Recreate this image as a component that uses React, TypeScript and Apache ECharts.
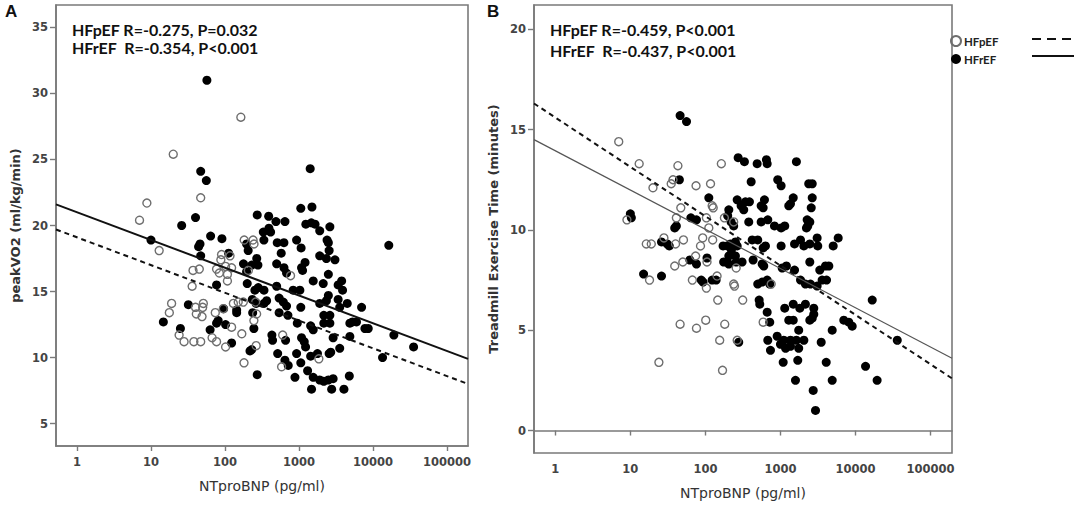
import React, { useEffect, useRef } from "react";
import * as echarts from "echarts";

// ---------- data ----------
const xTicks = [1, 10, 100, 1000, 10000, 100000];
const yTicksA = [5, 10, 15, 20, 25, 30, 35];
const yTicksB = [0, 5, 10, 15, 20];
const xMin = 0.52;
const xMax = 193000;

// Panel A: NTproBNP (pg/ml) vs peakVO2 (ml/kg/min)
const aHFpEF: number[][] = [
  [164, 28.2], [20, 25.4], [47, 22.1], [8.8, 21.7], [7.0, 20.4], [182, 18.9], [240, 18.9],
  [247, 18.6], [12.9, 18.1], [90, 17.8], [117, 17.7], [88, 17.4], [37, 16.6], [45, 16.7],
  [77, 16.7], [84, 16.4], [102, 16.9], [123, 16.8], [108, 16.3], [108, 15.8], [36, 15.4],
  [770, 16.2], [207, 16.6], [19, 14.1], [17.7, 13.4], [40, 13.8], [51, 14.1], [50, 13.8],
  [41, 13.3], [49, 13.1], [74, 13.4], [95, 13.7], [24, 11.7], [28, 11.2], [38, 11.2],
  [47, 11.2], [67, 11.5], [77, 11.2], [102, 10.8], [123, 12.3], [169, 11.8], [130, 14.1],
  [151, 14.2], [177, 14.2], [260, 14.2], [268, 13.3], [246, 12.8], [264, 10.9], [181, 9.6],
  [603, 11.7], [583, 9.3], [1860, 9.9],
];
const aHFrEF: number[][] = [
  [57, 31.0], [47, 24.1], [56, 23.4], [1420, 24.3], [26, 20.0], [40, 20.6], [10, 18.9], [16400, 18.5],
  [46, 18.6], [44, 18.4], [64, 19.2], [91, 19.0], [47, 17.7], [112, 17.9], [77, 15.5],
  [273, 20.8], [390, 20.7], [489, 20.3], [647, 20.3], [330, 19.5], [393, 19.8], [414, 19.5],
  [196, 18.6], [206, 18.1], [336, 18.9], [509, 18.7], [627, 18.7], [576, 17.9],
  [269, 17.5], [230, 17.0], [279, 17.0], [178, 17.1], [196, 16.5], [500, 17.1], [628, 16.8], [680, 16.4],
  [1060, 21.3], [1500, 21.4], [1240, 20.1], [1470, 20.2], [1650, 20.1], [1910, 19.6], [2620, 19.9],
  [930, 18.9], [1070, 18.3], [2400, 18.9], [2500, 18.7], [2560, 18.1], [1910, 17.7], [2350, 17.5], [3070, 17.4],
  [1210, 17.2], [1085, 16.8], [1120, 16.6], [1560, 15.8], [2130, 15.6], [2500, 16.3],
  [3780, 15.8], [3390, 15.5], [3890, 15.1], [500, 15.4], [282, 15.3], [254, 15.1], [337, 15.1],
  [835, 15.1], [1030, 15.1], [200, 15.6], [14.7, 12.7], [32, 14.0], [25, 12.2], [63, 12.1],
  [81, 12.8], [77, 12.6], [102, 12.5], [123, 11.1], [144, 13.6], [144, 13.4], [234, 14.4],
  [264, 14.1], [237, 13.4], [246, 12.2], [218, 10.5], [230, 10.6], [273, 8.7], [337, 14.1],
  [366, 14.3], [540, 14.5], [615, 14.2], [680, 13.9], [540, 13.4], [710, 13.2], [1060, 13.8],
  [950, 12.6], [431, 11.7], [440, 11.3], [660, 11.3], [516, 10.3], [647, 9.8], [717, 9.4], [884, 8.5],
  [1060, 9.6], [930, 10.3], [1085, 11.5], [1180, 11.2], [1230, 10.8], [1440, 12.4], [1560, 12.1], [1310, 9.0],
  [1440, 10.1], [1780, 10.3], [1480, 7.6], [1560, 8.5], [1910, 8.3], [2170, 8.2], [2500, 8.3], [2900, 8.4],
  [2770, 7.6], [4060, 7.6], [4800, 8.6], [2170, 13.2], [2620, 13.2], [2170, 12.6], [2620, 12.6],
  [1910, 14.1], [2350, 14.3], [2500, 14.7], [3390, 14.4], [3560, 13.8], [4500, 14.1], [7030, 13.8],
  [2900, 11.5], [3560, 10.7], [2690, 10.4], [2560, 10.3], [4880, 11.6], [4880, 12.6], [5300, 12.7], [6000, 12.7],
  [7800, 12.2], [8650, 12.2], [19200, 11.7], [35500, 10.8], [13500, 10.0], [96, 13.7],
];
const aFitHFpEF: number[][] = [[xMin, 19.7], [xMax, 8.0]];
const aFitHFrEF: number[][] = [[xMin, 21.6], [xMax, 9.9]];

// Panel B: NTproBNP (pg/ml) vs Treadmill Exercise Time (minutes)
const bHFpEF: number[][] = [
  [7.0, 14.4], [13.1, 13.3], [43, 13.2], [163, 13.3], [37, 12.5], [35, 12.3], [20, 12.1], [75, 12.2],
  [117, 12.3], [47, 11.1], [123, 11.2], [127, 11.1], [9.0, 10.5], [41, 10.6], [103, 10.6], [111, 10.1],
  [179, 10.6], [238, 10.4], [16.3, 9.3], [19, 9.3], [28, 9.6], [40, 9.3], [51, 9.5], [92, 9.6],
  [125, 9.5], [86, 9.2], [74, 8.7], [39, 8.2], [50, 8.4], [105, 8.4], [18, 7.5], [67, 7.5],
  [103, 7.1], [143, 7.7], [257, 8.1], [238, 7.3], [244, 7.2], [752, 7.3], [146, 6.5], [314, 6.5],
  [46, 5.3], [76, 5.1], [101, 5.5], [181, 5.3], [588, 5.4], [155, 4.5], [265, 4.5], [24, 3.4], [169, 3.0],
];
const bHFrEF: number[][] = [
  [46, 15.7], [56, 15.4], [273, 13.6], [331, 13.4], [489, 13.3], [650, 13.5], [665, 13.3], [1630, 13.4],
  [45, 12.5], [407, 12.4], [920, 12.5], [1020, 12.2], [2380, 12.3], [2650, 12.3], [111, 11.6], [265, 11.5],
  [341, 11.4], [299, 11.2], [324, 11.0], [386, 11.4], [205, 11.0], [198, 10.7], [612, 11.5], [553, 11.2],
  [588, 11.1], [1480, 11.6], [1360, 11.3], [1290, 11.2], [2650, 11.6], [2570, 11.1], [10, 10.8], [10.3, 10.6],
  [41, 10.2], [39, 10.1], [64, 10.6], [76, 10.5], [220, 10.4], [238, 10.2], [378, 10.4], [553, 10.4],
  [678, 10.5], [832, 10.2], [1020, 10.1], [1140, 10.2], [2270, 10.5], [2310, 10.2], [2460, 10.4], [2220, 10.1],
  [26, 9.4], [31, 9.3], [33, 9.2], [172, 9.2], [195, 9.2], [215, 9.3], [251, 9.4], [265, 9.2],
  [420, 9.5], [498, 9.5], [631, 9.2], [1020, 9.2], [1540, 9.3], [1850, 9.5], [2050, 9.2], [2460, 9.3],
  [3080, 9.6], [3140, 9.2], [5040, 9.2], [5880, 9.6], [15, 7.8], [26, 7.7], [62, 8.5], [76, 8.3],
  [105, 8.6], [88, 7.5], [93, 7.4], [123, 7.5], [139, 7.5], [222, 9.0], [205, 8.7], [251, 8.7],
  [175, 8.4], [205, 8.3], [257, 8.4], [308, 8.4], [432, 8.5], [588, 9.1], [570, 8.3], [599, 8.2],
  [1054, 8.1], [1200, 8.2], [1540, 8.0], [2460, 8.4], [3340, 8.0], [3980, 8.2], [4410, 8.2], [1850, 7.5],
  [2150, 7.3], [2510, 7.3], [3080, 7.2], [3590, 7.5], [4110, 7.5], [498, 7.3], [570, 7.4], [665, 7.5],
  [720, 7.3], [520, 6.5], [530, 6.3], [665, 5.9], [720, 5.4], [1140, 6.1], [1480, 6.3], [1810, 6.1],
  [2150, 6.3], [2780, 6.1], [1290, 5.5], [1480, 5.5], [2460, 5.5], [2650, 5.6], [2780, 5.8], [1750, 5.0],
  [4890, 5.0], [6980, 5.5], [8150, 5.4], [9030, 5.2], [16700, 6.5], [36000, 4.5], [678, 4.5], [736, 4.0],
  [903, 4.7], [1107, 4.5], [1360, 4.5], [1630, 4.5], [2050, 4.5], [1000, 4.3], [1170, 4.1], [1360, 4.2],
  [1750, 4.1], [3490, 4.4], [278, 4.4], [1087, 3.4], [1700, 3.5], [4070, 3.4], [13600, 3.2], [1585, 2.5],
  [4890, 2.5], [19400, 2.5], [2730, 2.0], [2930, 1.0],
];
const bFitHFpEF: number[][] = [[xMin, 16.3], [xMax, 2.6]];
const bFitHFrEF: number[][] = [[xMin, 14.5], [xMax, 3.6]];

const legendSeries = ["HFpEF", "HFrEF"];
const legendFits = ["HFpEF fit", "HFrEF fit"];

// ---------- styling ----------
const FRAME = "#7a7a7a";
const TICKFONT = "DejaVu Sans";

function xAxisCfg(gridIndex: number) {
  return {
    type: "log",
    gridIndex,
    logBase: 10,
    min: xMin,
    max: xMax,
    name: "NTproBNP (pg/ml)",
    nameLocation: "middle",
    nameGap: 33,
    nameTextStyle: { fontFamily: TICKFONT, fontSize: 14, color: "#333" },
    axisLine: { lineStyle: { color: FRAME, width: 1.6 } },
    axisTick: { length: 5, lineStyle: { color: FRAME, width: 1.4 }, customValues: xTicks },
    axisLabel: {
      customValues: xTicks,
      margin: 10,
      fontFamily: TICKFONT,
      fontWeight: "bold",
      fontSize: 11.5,
      color: "#444",
      formatter: (v: number) => String(Math.round(v)),
    },
    splitLine: { show: false },
  };
}

function yAxisCfg(gridIndex: number, name: string, min: number, max: number, ticks: number[]) {
  return {
    type: "value",
    gridIndex,
    min,
    max,
    name,
    nameLocation: "middle",
    nameGap: 34,
    nameTextStyle: { fontFamily: TICKFONT, fontSize: 13, fontWeight: "bold", color: "#333" },
    axisLine: { show: true, lineStyle: { color: FRAME, width: 1.6 } },
    axisTick: { show: true, length: 6, lineStyle: { color: FRAME, width: 1.4 }, customValues: ticks },
    axisLabel: {
      customValues: ticks,
      margin: 8,
      fontFamily: TICKFONT,
      fontWeight: "bold",
      fontSize: 11.5,
      color: "#444",
      formatter: (v: number) => String(v),
    },
    splitLine: { show: false },
  };
}

const openStyle = { color: "rgba(255,255,255,0)", borderColor: "#6e6e6e", borderWidth: 1.4, opacity: 1 };
const filledStyle = { color: "#000", opacity: 1 };

function scatter(name: string, data: number[][], idx: number, open: boolean) {
  return {
    type: "scatter",
    name,
    xAxisIndex: idx,
    yAxisIndex: idx,
    data,
    symbol: "circle",
    symbolSize: open ? 8 : 9,
    itemStyle: open ? openStyle : filledStyle,
    z: open ? 3 : 2,
  };
}

function fit(name: string, data: number[][], idx: number, dashed: boolean, color: string, width: number) {
  return {
    type: "line",
    name,
    xAxisIndex: idx,
    yAxisIndex: idx,
    data,
    symbol: "none",
    showSymbol: false,
    silent: true,
    lineStyle: { color, width, type: dashed ? [5, 4] : "solid" },
    itemStyle: { color },
    z: 4,
  };
}

function annot(x: number, y: number, text: string) {
  return {
    type: "text",
    x,
    y,
    style: {
      text,
      fontFamily: "Lato",
      fontWeight: "bold",
      fontSize: 16,
      fill: "#111",
      textVerticalAlign: "middle",
    },
  };
}

export default function App() {
  const ref = useRef<HTMLDivElement>(null);
  useEffect(() => {
    if (!ref.current) return;
    const chart = echarts.init(ref.current, null, { renderer: "svg" });
    chart.setOption({
      animation: false,
      backgroundColor: "#fff",
      grid: [
        { left: 56, top: 5, width: 412, height: 441, show: true, borderColor: FRAME, borderWidth: 1.6 },
        { left: 534, top: 5, width: 418, height: 448, show: true, borderColor: FRAME, borderWidth: 1.6 },
      ],
      xAxis: [xAxisCfg(0), xAxisCfg(1)],
      yAxis: [
        yAxisCfg(0, "peakVO2 (ml/kg/min)", 3.3, 36.7, yTicksA),
        yAxisCfg(1, "Treadmill Exercise Time (minutes)", -1.12, 21.21, yTicksB),
      ],
      legend: [
        {
          data: legendSeries,
          orient: "vertical",
          left: 950,
          top: 35,
          itemWidth: 10,
          itemHeight: 10,
          itemGap: 6,
          padding: 0,
          selectedMode: false,
          textStyle: { fontFamily: "Lato", fontWeight: "bold", fontSize: 11.5, color: "#222", padding: [0, 0, 0, -2] },
        },
        {
          data: [
            { name: legendFits[0], lineStyle: { type: [9, 6], width: 2, color: "#111" } },
            { name: legendFits[1], lineStyle: { type: "solid", width: 2, color: "#111" } },
          ],
          orient: "vertical",
          left: 1031,
          top: 34,
          itemWidth: 42,
          itemHeight: 10,
          itemGap: 8,
          padding: 0,
          selectedMode: false,
          itemStyle: { opacity: 0 },
          lineStyle: { width: 2, color: "#111" },
          formatter: () => "",
        },
      ],
      graphic: [
        { type: "text", x: 5, y: 11, style: { text: "A", fontFamily: "Liberation Sans", fontWeight: "bold", fontSize: 17, fill: "#111", textVerticalAlign: "middle" } },
        { type: "text", x: 487, y: 11, style: { text: "B", fontFamily: "Liberation Sans", fontWeight: "bold", fontSize: 17, fill: "#111", textVerticalAlign: "middle" } },
        annot(72, 29.3, "HFpEF R=-0.275, P=0.032"),
        annot(72, 47, "HFrEF  R=-0.354, P<0.001"),
        annot(550, 29.3, "HFpEF R=-0.459, P<0.001"),
        annot(550, 50, "HFrEF  R=-0.437, P<0.001"),
      ],
      series: [
        scatter("HFrEF", aHFrEF, 0, false),
        scatter("HFpEF", aHFpEF, 0, true),
        fit("HFpEF fit", aFitHFpEF, 0, true, "#111", 2),
        fit("HFrEF fit", aFitHFrEF, 0, false, "#111", 2),
        scatter("HFrEF", bHFrEF, 1, false),
        scatter("HFpEF", bHFpEF, 1, true),
        fit("HFpEF fit", bFitHFpEF, 1, true, "#111", 2),
        fit("HFrEF fit", bFitHFrEF, 1, false, "#555", 1.2),
      ],
    });
    return () => chart.dispose();
  }, []);
  return (
    <div
      ref={ref}
      style={{ position: "absolute", left: 0, top: 0, width: 1084, height: 505, background: "#fff" }}
    />
  );
}
